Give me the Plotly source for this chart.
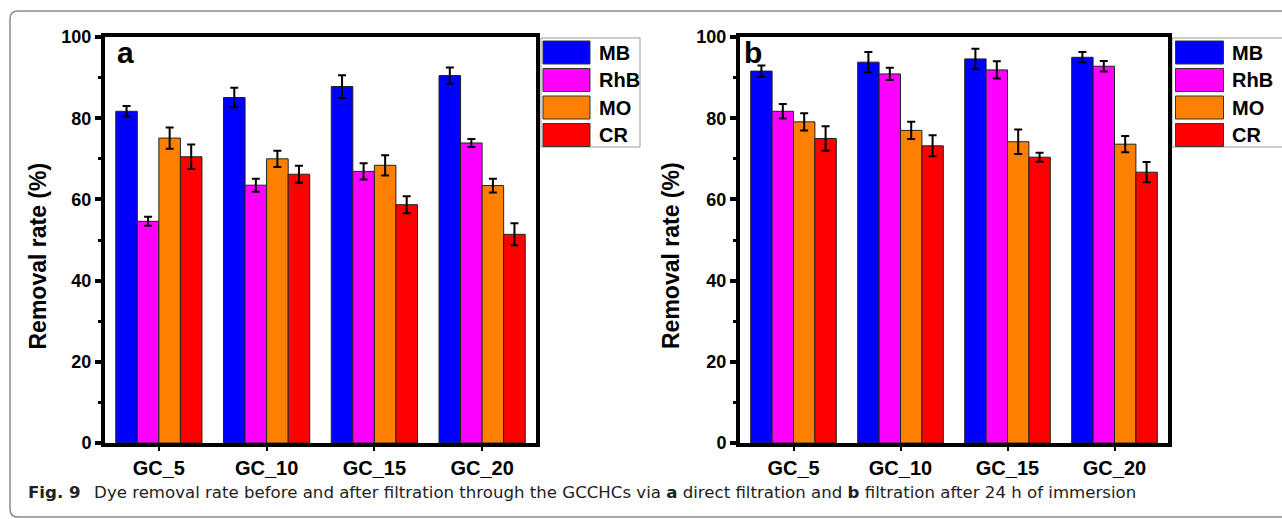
import plotly.graph_objects as go

W, H = 1282, 519

categories = ["GC_5", "GC_10", "GC_15", "GC_20"]
dyes = ["MB", "RhB", "MO", "CR"]
colors = ["#0000FF", "#FF00FF", "#FF8000", "#FF0000"]

# Panel a: direct filtration
a_MB = [81.7, 85.1, 87.8, 90.5]
a_RhB = [54.6, 63.5, 66.9, 73.9]
a_MO = [75.1, 70.0, 68.4, 63.4]
a_CR = [70.5, 66.2, 58.7, 51.4]
a_MB_err = [1.3, 2.4, 2.8, 2.0]
a_RhB_err = [1.1, 1.6, 2.0, 1.0]
a_MO_err = [2.6, 2.0, 2.5, 1.7]
a_CR_err = [3.0, 2.1, 2.1, 2.7]

# Panel b: filtration after 24 h of immersion
b_MB = [91.6, 93.8, 94.6, 95.0]
b_RhB = [81.7, 90.9, 91.9, 92.8]
b_MO = [79.1, 77.0, 74.2, 73.6]
b_CR = [75.0, 73.2, 70.4, 66.7]
b_MB_err = [1.4, 2.5, 2.5, 1.3]
b_RhB_err = [1.8, 1.5, 2.1, 1.3]
b_MO_err = [2.1, 2.1, 3.0, 2.0]
b_CR_err = [3.0, 2.6, 1.1, 2.5]

y_ticks = [0, 20, 40, 60, 80, 100]

panel_a = [a_MB, a_RhB, a_MO, a_CR]
panel_a_err = [a_MB_err, a_RhB_err, a_MO_err, a_CR_err]
panel_b = [b_MB, b_RhB, b_MO, b_CR]
panel_b_err = [b_MB_err, b_RhB_err, b_MO_err, b_CR_err]

FONT = "Liberation Sans"
CAP_FONT = "DejaVu Sans"


def px(x):
    return x / W


def py(y):
    return 1 - y / H


fig = go.Figure()
for (vals, errs, xa, ya) in [(panel_a, panel_a_err, "x", "y"), (panel_b, panel_b_err, "x2", "y2")]:
    for name, v, e, c in zip(dyes, vals, errs, colors):
        fig.add_trace(go.Bar(
            x=categories, y=v, name=name, xaxis=xa, yaxis=ya,
            marker=dict(color=c, line=dict(color="#222222", width=1)),
            error_y=dict(type="data", array=e, visible=True, color="black", thickness=2, width=4),
            showlegend=False,
        ))

# plot area pixel geometry
A_X0, A_X1 = 105, 536
B_X0, B_X1 = 740, 1168
Y_TOP, Y_BOT = 37, 443

axis_common = dict(showline=True, linecolor="black", linewidth=4, mirror=True,
                   showgrid=False, zeroline=False, automargin=False)
yaxis_common = dict(axis_common, range=[0, 100], tickvals=y_ticks, ticks="outside",
                    ticklen=6, tickwidth=4, tickcolor="black",
                    minor=dict(dtick=10, ticks="outside", ticklen=3, tickwidth=3, tickcolor="black"),
                    tickfont=dict(family=FONT, size=18, color="black", weight="bold"))
xaxis_common = dict(axis_common, range=[-0.5, 3.5], type="category", ticks="outside",
                    ticklen=4, tickwidth=2, tickcolor="black",
                    tickfont=dict(family=FONT, size=20, color="black", weight="bold"))

fig.update_layout(
    width=W, height=H,
    margin=dict(l=0, r=0, t=0, b=0),
    paper_bgcolor="white", plot_bgcolor="white",
    barmode="group", bargap=0.2, bargroupgap=0,
    showlegend=False,
    xaxis=dict(xaxis_common, domain=[px(A_X0), px(A_X1)], anchor="y"),
    yaxis=dict(yaxis_common, domain=[py(Y_BOT), py(Y_TOP)], anchor="x"),
    xaxis2=dict(xaxis_common, domain=[px(B_X0), px(B_X1)], anchor="y2"),
    yaxis2=dict(yaxis_common, domain=[py(Y_BOT), py(Y_TOP)], anchor="x2"),
)

shapes = []
annotations = []

# outer rounded frame
r = 8
x0f, y0f, x1f, y1f = 10, 11, 1300, 517
path = (f"M {px(x1f)},{py(y0f)} L {px(x0f + r)},{py(y0f)} Q {px(x0f)},{py(y0f)} {px(x0f)},{py(y0f + r)} "
        f"L {px(x0f)},{py(y1f - r)} Q {px(x0f)},{py(y1f)} {px(x0f + r)},{py(y1f)} L {px(x1f)},{py(y1f)}")
shapes.append(dict(type="path", path=path, xref="paper", yref="paper",
                   line=dict(color="#8c8c8c", width=1.5)))

# custom legends
row_tops = [41, 68.5, 96, 123.5]
sw_h = 23
for (fx0, fx1, sx0, sx1, tx) in [(541, 640, 543, 590, 597), (1172, 1290, 1175.5, 1223.5, 1230)]:
    shapes.append(dict(type="rect", xref="paper", yref="paper",
                       x0=px(fx0), x1=px(fx1), y0=py(147), y1=py(38),
                       line=dict(color="#9a9a9a", width=1), fillcolor="white", layer="below"))
    for name, c, top in zip(dyes, colors, row_tops):
        shapes.append(dict(type="rect", xref="paper", yref="paper",
                           x0=px(sx0), x1=px(sx1), y0=py(top + sw_h), y1=py(top),
                           line=dict(color="#333333", width=1), fillcolor=c))
        annotations.append(dict(text=name, xref="paper", yref="paper", x=px(tx), y=py(top + sw_h / 2),
                                xanchor="left", yanchor="middle", showarrow=False,
                                font=dict(family=FONT, size=20, color="black", weight="bold")))

# panel letters
for letter, lx in [("a", 115), ("b", 742)]:
    annotations.append(dict(text=letter, xref="paper", yref="paper", x=px(lx), y=py(52),
                            xanchor="left", yanchor="middle", showarrow=False,
                            font=dict(family=FONT, size=30, color="black", weight="bold")))

# y-axis titles
for tx in [37.5, 671]:
    annotations.append(dict(text="Removal rate (%)", xref="paper", yref="paper", x=px(tx), y=py(256),
                            xanchor="center", yanchor="middle", textangle=-90, showarrow=False,
                            font=dict(family=FONT, size=23, color="black", weight="bold")))

# caption
annotations.append(dict(
    text=("<b>Fig. 9</b>\u2002 Dye removal rate before and after filtration through the GCCHCs via "
          "<b>a</b> direct filtration and <b>b</b> filtration after 24 h of immersion"),
    xref="paper", yref="paper", x=px(26), y=py(492), xanchor="left", yanchor="middle",
    showarrow=False, font=dict(family=CAP_FONT, size=16.6, color="#222222")))

fig.update_layout(shapes=shapes, annotations=annotations)
fig.write_html("out.html")
